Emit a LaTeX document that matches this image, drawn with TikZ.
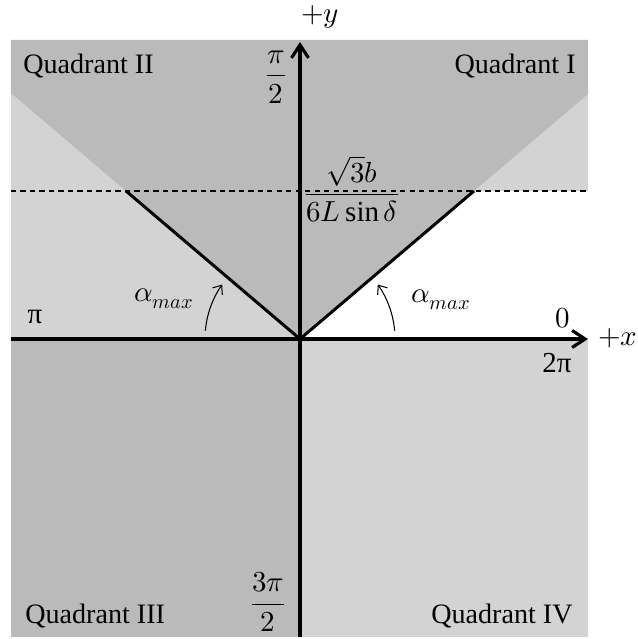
\documentclass[tikz,border=0pt]{standalone}
\usepackage{amsmath}
\usepackage{fontspec}
\usepackage{unicode-math}
\setmainfont{Liberation Serif}
\setmathfont{Latin Modern Math}
\usepackage{xcolor}
\usepackage{tikz}
\usetikzlibrary{arrows.meta}

\definecolor{darkzone}{RGB}{186,186,186}
\definecolor{lightzone}{RGB}{211,211,211}

\begin{document}
\begin{tikzpicture}[
    >={Straight Barb[length=2.6mm, width=3.4mm]},
    axis/.style={line width=1.8pt},
    edge/.style={line width=1.7pt},
    swing/.style={line width=0.6pt, -{Straight Barb[length=1.5mm, width=2.4mm]}},
    lbl/.style={font=\fontsize{16.5}{19}\selectfont, inner sep=1pt},
    quad/.style={font=\fontsize{16}{18}\selectfont, inner sep=0pt}
]
\useasboundingbox (-6.0,-6.0) rectangle (6.76,6.78);

% Points
\coordinate (O) at (0,0);
\coordinate (xneg) at (-5.78,0);
\coordinate (xpos) at (5.76,0);
\coordinate (yneg) at (0,-5.96);
\coordinate (ypos) at (0,5.94);
\coordinate (limL) at (-3.48,2.96);
\coordinate (limR) at (3.48,2.96);

% Shaded zones
\fill[lightzone] (-5.78,-5.96) rectangle (5.76,5.98);
\fill[darkzone] (-5.78,-5.96) rectangle (0,0);
\fill[darkzone] (O) -- (5.76,4.90) -- (5.76,5.98) -- (-5.78,5.98) -- (-5.78,4.92) -- cycle;
\fill[white] (O) -- (limR) -- (5.76,2.96) -- (5.76,0) -- cycle;

% Limit line
\draw[dashed, line width=0.6pt, dash pattern=on 3pt off 2.4pt] (-5.78,2.96) -- (5.76,2.96);

% Axes
\draw[axis, ->] (xneg) -- (xpos);
\draw[axis, ->] (yneg) -- (ypos);

% Boundary lines
\draw[edge] (O) -- (limR);
\draw[edge] (O) -- (limL);

% Angle arrows
\draw[swing] (5:1.9) arc[start angle=5, end angle=35, radius=1.9];
\draw[swing] (175:1.9) arc[start angle=175, end angle=145, radius=1.9];

% Axis labels
\node[lbl] (ylab) at (0.4,6.44) {$+y$};
\node[lbl] (xlab) at (6.36,0.02) {$+x$};
\node[lbl] (halfpi) at (-0.48,5.24) {$\dfrac{\pi}{2}$};
\node[lbl] (threehalfpi) at (-0.64,-5.26) {$\dfrac{3\pi}{2}$};
\node[lbl] (pilab) at (-5.3,0.44) {π};
\node[lbl] (zerolab) at (5.26,0.42) {$0$};
\node[lbl] (twopilab) at (5.14,-0.48) {2π};
\node[lbl] (limlab) at (1.04,3.0) {$\dfrac{\sqrt{3}b}{6L\sin\delta}$};
\node[lbl] (amaxL) at (-2.72,0.8) {$\alpha_{max}$};
\node[lbl] (amaxR) at (2.82,0.78) {$\alpha_{max}$};

% Quadrant names
\node[quad, anchor=base west] (q2) at (-5.54,5.3) {Quadrant II};
\node[quad, anchor=base east] (q1) at (5.52,5.3) {Quadrant I};
\node[quad, anchor=base west] (q3) at (-5.5,-5.68) {Quadrant III};
\node[quad, anchor=base east] (q4) at (5.46,-5.68) {Quadrant IV};

\end{tikzpicture}
\end{document}
